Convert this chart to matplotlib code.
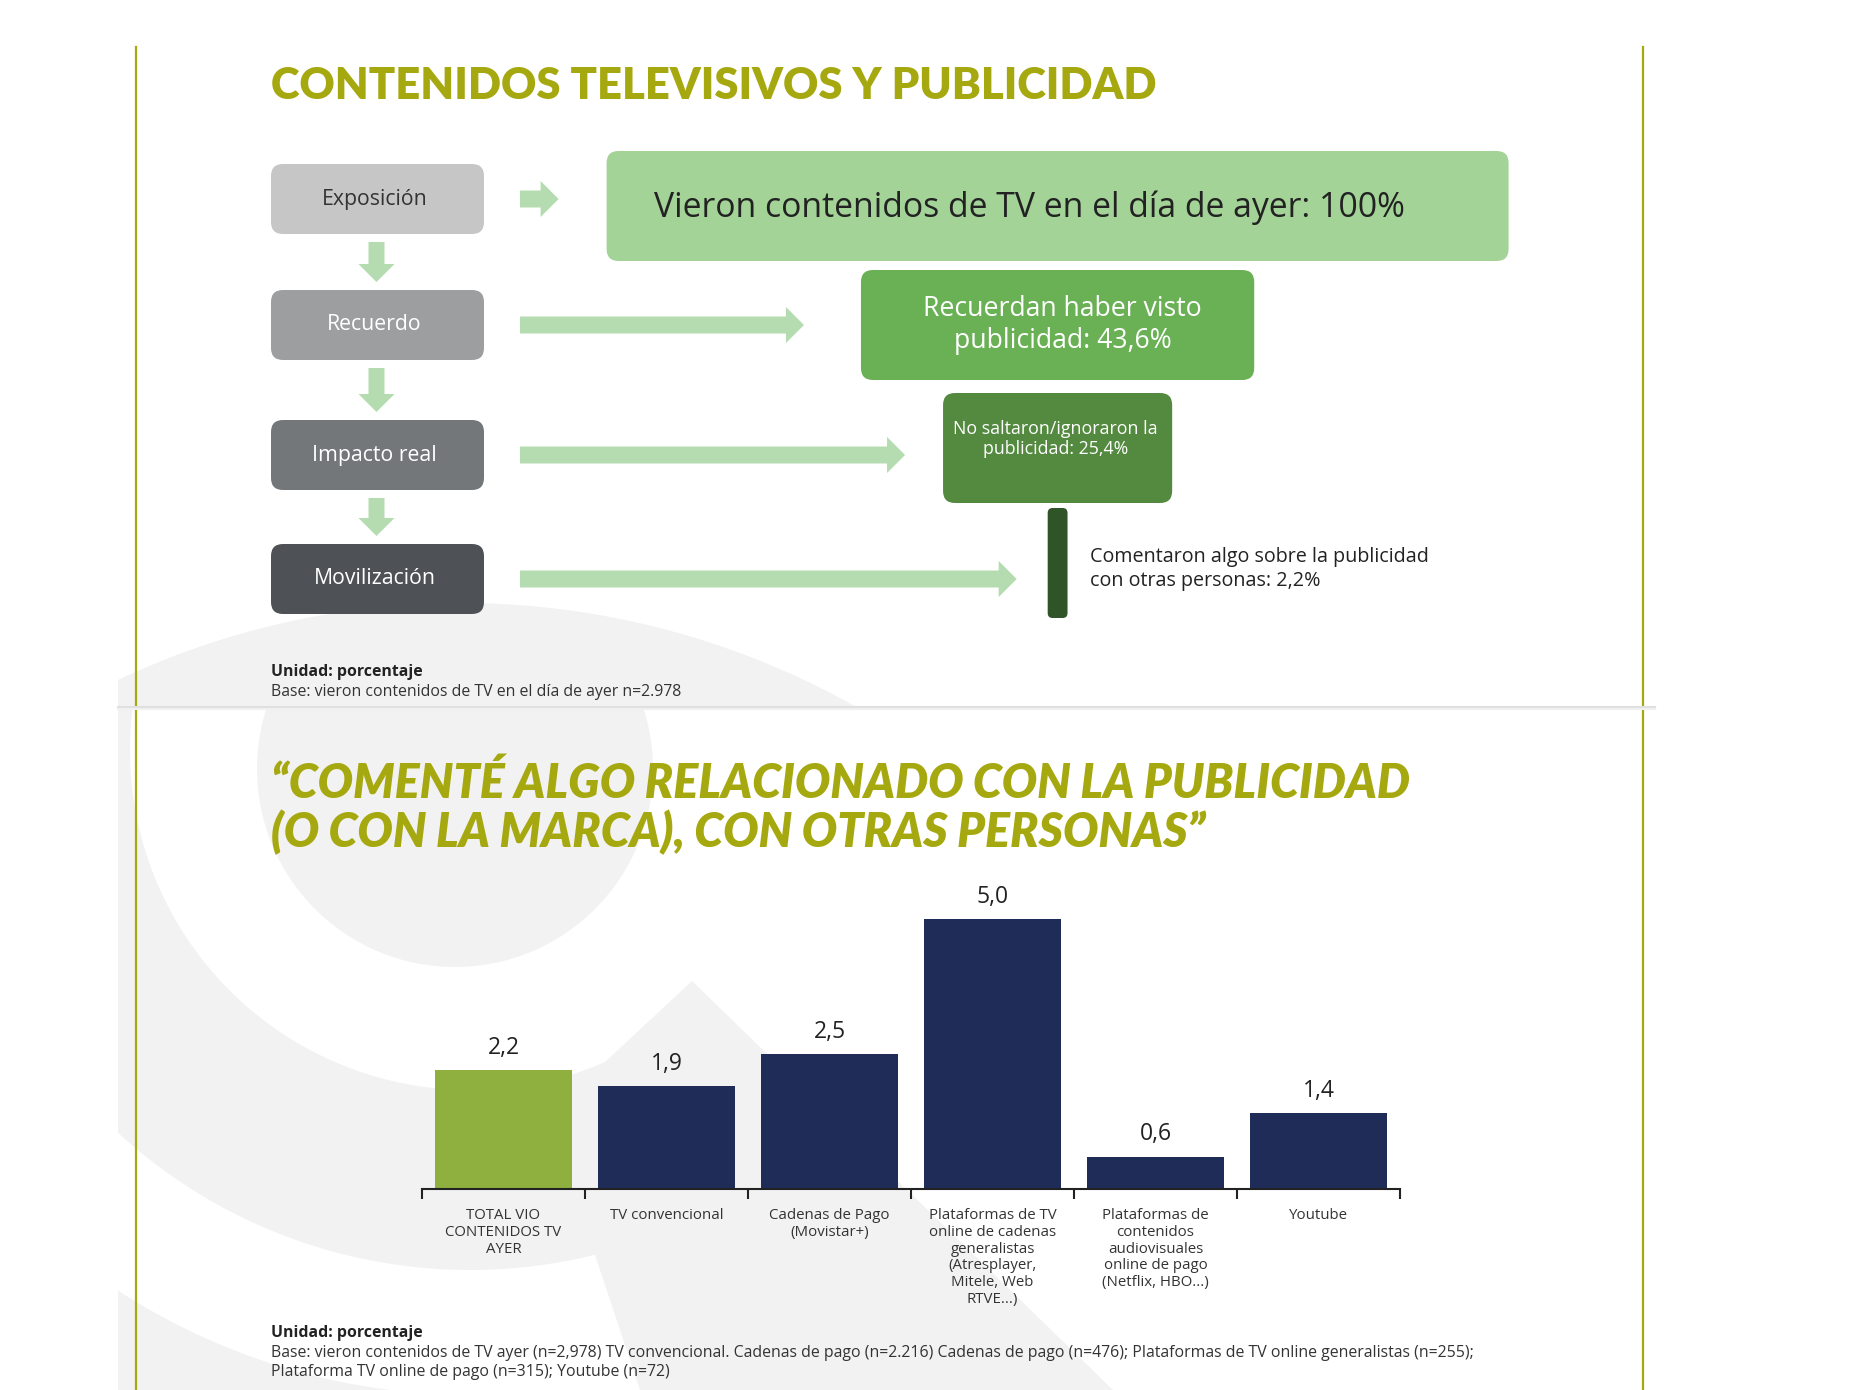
import numpy as np
import matplotlib
matplotlib.use('Agg')
import matplotlib.pyplot as plt
from matplotlib.patches import FancyBboxPatch, Polygon, Circle, Wedge, Rectangle

plt.rcParams['font.family'] = ['Open Sans', 'DejaVu Sans']

# Data
stages = ['Exposición', 'Recuerdo', 'Impacto real', 'Movilización']
funnel_values = [100.0, 43.6, 25.4, 2.2]
funnel_texts = ['Vieron contenidos de TV en el día de ayer: {}%',
                'Recuerdan haber visto\npublicidad: {}%',
                'No saltaron/ignoraron la\npublicidad: {}%',
                'Comentaron algo sobre la publicidad\ncon otras personas: {}%']

categories = ['TOTAL VIO\nCONTENIDOS TV\nAYER',
              'TV convencional',
              'Cadenas de Pago\n(Movistar+)',
              'Plataformas de TV\nonline de cadenas\ngeneralistas\n(Atresplayer,\nMitele, Web\nRTVE...)',
              'Plataformas de\ncontenidos\naudiovisuales\nonline de pago\n(Netflix, HBO...)',
              'Youtube']
values = [2.2, 1.9, 2.5, 5.0, 0.6, 1.4]

title1 = 'CONTENIDOS TELEVISIVOS Y PUBLICIDAD'
title2 = ['\u201cCOMENTÉ ALGO RELACIONADO CON LA PUBLICIDAD',
          '(O CON LA MARCA), CON OTRAS PERSONAS\u201d']
note1 = 'Base: vieron contenidos de TV en el día de ayer n=2.978'
note2 = ['Base: vieron contenidos de TV ayer (n=2,978) TV convencional. Cadenas de pago (n=2.216) '
         'Cadenas de pago (n=476); Plataformas de TV online generalistas (n=255);',
         'Plataforma TV online de pago (n=315); Youtube (n=72)']

# Styles
OLIVE = '#a5a80f'
ARROW = '#b5dcb0'
WM = '#f2f2f2'
TITLE_FONT = ['Lato', 'DejaVu Sans']
stage_colors = ['#c6c6c6', '#9d9ea0', '#747779', '#4e5256']
stage_text = ['#333333', 'white', 'white', 'white']
funnel_colors = ['#a3d397', '#6ab155', '#548a40', '#2f5428']
bar_colors = ['#8fb03e'] + ['#1e2c57'] * 5


def es(v):
    return ('%g' % v).replace('.', ',')


W, H = 1854, 1390
fig = plt.figure(figsize=(W / 100, H / 100), dpi=100)
bg = fig.add_axes([0, 0, 1, 1])
bg.set_xlim(0, W)
bg.set_ylim(H, 0)
bg.axis('off')


def fit_width(t, target):
    r = fig.canvas.get_renderer()
    w = t.get_window_extent(renderer=r).width
    t.set_fontsize(t.get_fontsize() * target / w)
    return t.get_fontsize()


# Watermark (background logo)
clip_top = Rectangle((118, 0), 1537, 707, transform=bg.transData)
clip_bot = Rectangle((118, 707), 1537, 683, transform=bg.transData)
p = bg.add_patch(Circle((461, 1406), 803, fc=WM, ec='none', zorder=0))
p.set_clip_path(clip_top)
for shape in [Circle((455, 769), 198),
              Wedge((470, 750), 520, 60, 192, width=180),
              Wedge((470, 750), 900, 92, 170, width=255),
              Polygon([(692, 981), (1113, 1390), (640, 1390), (560, 1150), (575, 1090)])]:
    shape.set_facecolor(WM)
    shape.set_edgecolor('none')
    shape.set_zorder(0)
    bg.add_patch(shape)
    shape.set_clip_path(clip_bot)

# Page frame
bg.plot([136, 136], [47, H], color=OLIVE, lw=1.6, zorder=1)
bg.plot([1643, 1643], [47, H], color=OLIVE, lw=1.6, zorder=1)
bg.plot([118, 1655], [707, 707], color='#e0e0e0', lw=1.5, zorder=1)
bg.plot([118, 1655], [709, 709], color='#f0f0f0', lw=1.5, zorder=1)

# Title 1
t = bg.text(271, 86, title1, family=TITLE_FONT, weight='heavy', fontsize=30,
            color=OLIVE, va='center', ha='left')
fit_width(t, 882)


def harrow(x0, x1, yc, shaft=17, head=36, hl=18):
    pts = [(x0, yc - shaft / 2), (x1 - hl, yc - shaft / 2), (x1 - hl, yc - head / 2),
           (x1, yc), (x1 - hl, yc + head / 2), (x1 - hl, yc + shaft / 2), (x0, yc + shaft / 2)]
    bg.add_patch(Polygon(pts, fc=ARROW, ec='none', zorder=2))


def varrow(xc, y0, y1, shaft=16, head=36, hl=18):
    pts = [(xc - shaft / 2, y0), (xc - shaft / 2, y1 - hl), (xc - head / 2, y1 - hl),
           (xc, y1), (xc + head / 2, y1 - hl), (xc + shaft / 2, y1 - hl), (xc + shaft / 2, y0)]
    bg.add_patch(Polygon(pts, fc=ARROW, ec='none', zorder=2))


# Stage boxes (left column)
stage_x, stage_w, stage_h = 271, 213, 70
stage_tops = [164, 290, 420, 544]
for i, name in enumerate(stages):
    y0 = stage_tops[i]
    bg.add_patch(FancyBboxPatch((stage_x, y0), stage_w, stage_h,
                                boxstyle='round,pad=0,rounding_size=12',
                                fc=stage_colors[i], ec='none', zorder=2))
    bg.text(stage_x + stage_w / 2 - 3, y0 + stage_h / 2, name, ha='center', va='center',
            fontsize=15.3, color=stage_text[i], zorder=3)
    if i < len(stages) - 1:
        varrow(stage_x + stage_w / 2 - 1, y0 + stage_h + 8, stage_tops[i + 1] - 8)

# Funnel boxes (width proportional to value)
cx, full_w, row_h = 1057.6, 902, 110
row_tops = [151, 270, 393, 508]
arrow_gap = [48, 57, 38, 31]
for i, v in enumerate(funnel_values):
    w = full_w * v / 100
    x0 = cx - w / 2
    y0 = row_tops[i]
    rs = min(12, w * 0.25)
    bg.add_patch(FancyBboxPatch((x0, y0), w, row_h,
                                boxstyle='round,pad=0,rounding_size=%g' % rs,
                                fc=funnel_colors[i], ec='none', zorder=2))
    harrow(520, x0 - arrow_gap[i], stage_tops[i] + stage_h / 2)
    txt = funnel_texts[i].format(es(v))
    if i == 0:
        bg.text(x0 + 47, y0 + row_h / 2 + 2, txt, ha='left', va='center',
                fontsize=24.3, color='#222222', zorder=3)
    elif i == 1:
        bg.text(cx + 5, y0 + row_h / 2, txt, ha='center', va='center',
                fontsize=19.2, color='white', linespacing=1.2, zorder=3)
    elif i == 2:
        bg.text(cx - 2, y0 + 46, txt, ha='center', va='center',
                fontsize=12.8, color='white', linespacing=1.2, zorder=3)
    else:
        bg.text(x0 + w + 22, y0 + row_h / 2 + 6, txt, ha='left', va='center',
                fontsize=14.2, color='#222222', linespacing=1.25, zorder=3)

# Notes 1
bg.text(271, 672, 'Unidad: porcentaje', weight='bold', fontsize=11.4,
        color='#222222', va='center')
bg.text(271, 692, note1, fontsize=11.4, color='#333333', va='center')

# Title 2
t2a = bg.text(271, 784, title2[0], family=TITLE_FONT, weight='heavy', style='italic',
              fontsize=30, color=OLIVE, va='center', ha='left')
fs = fit_width(t2a, 1139)
bg.text(271, 832, title2[1], family=TITLE_FONT, weight='heavy', style='italic',
        fontsize=fs, color=OLIVE, va='center', ha='left')

# Bar chart
base_y, top_h = 1189, 297
bax = fig.add_axes([422 / W, (H - base_y) / H, 978 / W, top_h / H])
bax.patch.set_alpha(0)
x = np.arange(len(values))
bax.bar(x, values, width=0.84, color=bar_colors, zorder=2)
bax.set_xlim(-0.5, len(values) - 0.5)
bax.set_ylim(0, 5.5)
for s in ['top', 'right', 'left']:
    bax.spines[s].set_visible(False)
bax.spines['bottom'].set_linewidth(1.5)
bax.spines['bottom'].set_color('#222222')
bax.set_yticks([])
bax.set_xticks(np.arange(-0.5, len(values), 1))
bax.set_xticklabels([])
bax.tick_params(axis='x', which='major', length=7, width=1.5, color='#222222', direction='out')
bax.set_xticks(x, minor=True)
bax.set_xticklabels(categories, minor=True, fontsize=10.8, color='#333333')
bax.tick_params(axis='x', which='minor', length=0, pad=14)
for lbl in bax.get_xticklabels(minor=True):
    lbl.set_linespacing(1.15)
for i, v in enumerate(values):
    bax.annotate(f'{v:.1f}'.replace('.', ','), (i, v), xytext=(0, 16),
                 textcoords='offset points', ha='center', va='center',
                 fontsize=16.5, color='#222222')

# Notes 2
bg.text(271, 1333, 'Unidad: porcentaje', weight='bold', fontsize=11.4,
        color='#222222', va='center')
bg.text(271, 1353, note2[0], fontsize=11.4, color='#333333', va='center')
bg.text(271, 1372, note2[1], fontsize=11.4, color='#333333', va='center')

fig.savefig('out.png', dpi=100, facecolor='white')
